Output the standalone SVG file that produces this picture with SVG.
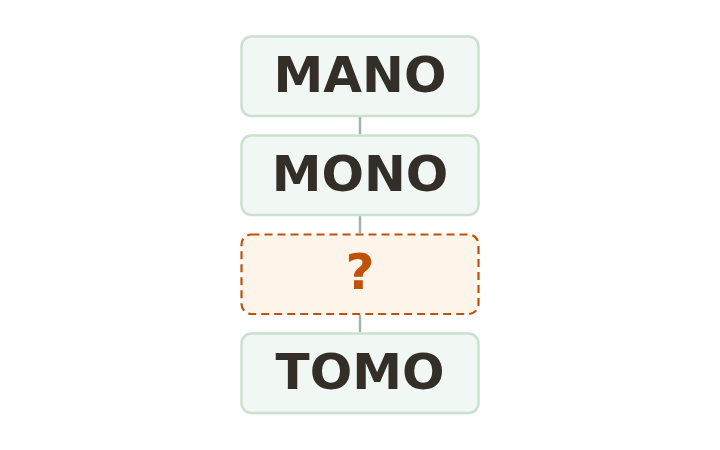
<svg xmlns="http://www.w3.org/2000/svg" width="720" height="450" viewBox="0 0 720 450">
<style>
.box{fill:#f1f7f2;stroke:#cce0d0;stroke-width:2.5}
.unk{fill:#fef5ea;stroke:#c0510a;stroke-width:2.2;stroke-dasharray:8 5}
.t{font-family:"DejaVu Sans",sans-serif;font-weight:bold;font-size:50px;fill:#332f28;text-anchor:middle}
.q{fill:#c0510a}
.c{stroke:#a3b2ab;stroke-width:2.5}
</style>
<rect width="720" height="450" fill="#ffffff"/>
<g id="connectors">
<line class="c" x1="360" y1="117" x2="360" y2="134"/>
<line class="c" x1="360" y1="216" x2="360" y2="233"/>
<line class="c" x1="360" y1="315" x2="360" y2="332"/>
</g>
<g id="node-mano">
<rect class="box" x="241.5" y="36.5" width="237" height="79.5" rx="10"/>
<text class="t" x="360" y="92">MANO</text>
</g>
<g id="node-mono">
<rect class="box" x="241.5" y="135.5" width="237" height="79.5" rx="10"/>
<text class="t" x="360" y="191">MONO</text>
</g>
<g id="node-unknown">
<rect class="unk" x="241.5" y="234.5" width="237" height="79.5" rx="10"/>
<text class="t q" x="360" y="289">?</text>
</g>
<g id="node-tomo">
<rect class="box" x="241.5" y="333.5" width="237" height="79.5" rx="10"/>
<text class="t" x="360" y="389">TOMO</text>
</g>
</svg>
